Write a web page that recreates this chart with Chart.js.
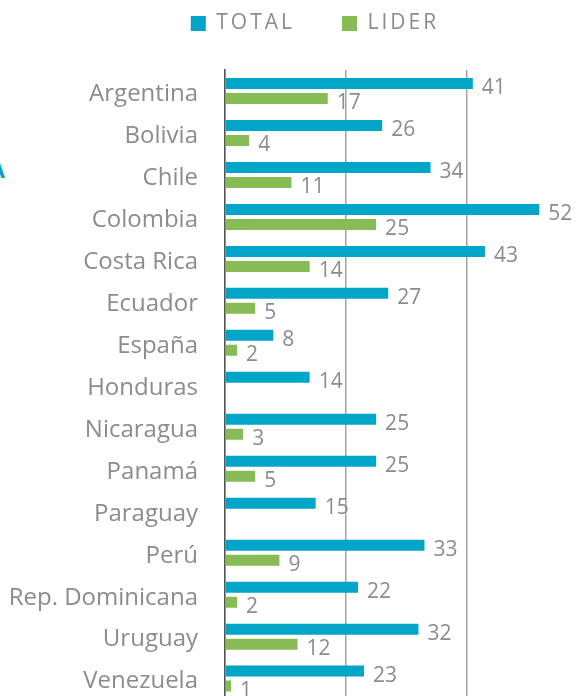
<!DOCTYPE html>
<html><head><meta charset="utf-8">
<script src="https://cdn.jsdelivr.net/npm/chart.js@4.4.1/dist/chart.umd.min.js"></script>
<style>
html,body{margin:0;padding:0;background:#fff;overflow:hidden;width:577px;height:696px;}
#wrap{position:absolute;left:0;top:0;width:630px;height:741px;}
#cut{position:absolute;left:-11px;top:158px;font:bold 23px "Open Sans";color:#00a5c8;line-height:1;}
</style></head><body>
<div id="cut">A</div>
<div id="wrap"><canvas id="c"></canvas></div>
<script>
const categories = ['Argentina','Bolivia','Chile','Colombia','Costa Rica','Ecuador','España','Honduras','Nicaragua','Panamá','Paraguay','Perú','Rep. Dominicana','Uruguay','Venezuela'];
const totalValues = [41,26,34,52,43,27,8,14,25,25,15,33,22,32,23];
const liderValues = [17,4,11,25,14,5,2,null,3,5,null,9,2,12,1];
const seriesNames = ['TOTAL','LIDER'];
const xTickStep = 20;

const TEAL = '#00a5c8', GREEN = '#87bb55', GRAY = '#8a8c90';
const FONT = '"Open Sans", "DejaVu Sans", sans-serif';

const valueLabels = {
  id: 'valueLabels',
  afterDatasetsDraw(chart) {
    const ctx = chart.ctx;
    ctx.save();
    ctx.font = '21px ' + FONT;
    ctx.fillStyle = GRAY;
    ctx.textBaseline = 'middle';
    ctx.textAlign = 'left';
    chart.data.datasets.forEach((ds, i) => {
      const meta = chart.getDatasetMeta(i);
      meta.data.forEach((el, j) => {
        const v = ds.data[j];
        if (v == null) return;
        ctx.fillText(String(v), el.x + 9, el.y + 4.5);
      });
    });
    ctx.restore();
  }
};

const legendTweak = {
  id: 'legendTweak',
  afterInit(chart) {
    const lg = chart.legend;
    if (!lg) return;
    const oFit = lg.fit.bind(lg);
    lg.fit = function () {
      const c = this.ctx; const prev = c.letterSpacing;
      c.letterSpacing = '3px';
      oFit();
      c.letterSpacing = prev;
      this.height = 70;
    };
    const oDraw = lg.draw.bind(lg);
    lg.draw = function () {
      const c = this.ctx;
      c.save();
      c.letterSpacing = '3px';
      c.translate(0, -34);
      oDraw();
      c.restore();
    };
  }
};

new Chart(document.getElementById('c'), {
  type: 'bar',
  data: {
    labels: categories,
    datasets: [
      { label: seriesNames[0], data: totalValues, backgroundColor: TEAL, borderWidth: 0, categoryPercentage: 0.715, barPercentage: 0.733 },
      { label: seriesNames[1], data: liderValues, backgroundColor: GREEN, borderWidth: 0, categoryPercentage: 0.715, barPercentage: 0.733 }
    ]
  },
  options: {
    indexAxis: 'y',
    responsive: true,
    maintainAspectRatio: false,
    animation: false,
    layout: { padding: 0 },
    plugins: {
      tooltip: { enabled: false },
      legend: {
        position: 'top',
        labels: { boxWidth: 15, boxHeight: 15, padding: 47, color: GRAY, font: { size: 21, family: FONT } }
      }
    },
    scales: {
      x: {
        min: 0, max: 67,
        ticks: { display: false, stepSize: xTickStep },
        grid: { color: '#a3a3a3', lineWidth: 1.5, drawTicks: false },
        border: { display: false }
      },
      y: {
        afterFit: s => { s.width = 225; },
        grid: { display: false, drawTicks: false },
        border: { display: true, color: '#555', width: 1.5 },
        ticks: { color: GRAY, padding: 27, labelOffset: 3, font: { size: 24, family: FONT } }
      }
    }
  },
  plugins: [valueLabels, legendTweak]
});
</script>
</body></html>
